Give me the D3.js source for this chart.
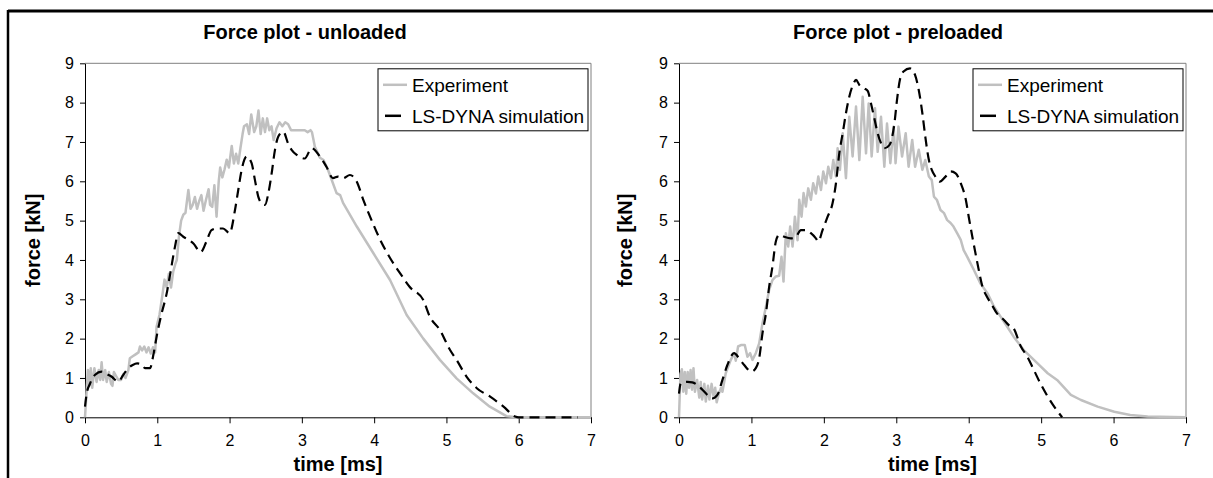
<!DOCTYPE html>
<html>
<head>
<meta charset="utf-8">
<script src="https://cdn.jsdelivr.net/npm/d3@7"></script>
<style>
  html, body { margin: 0; padding: 0; background: #fff; }
  svg { display: block; font-family: "Liberation Sans", Arial, sans-serif; }
</style>
</head>
<body>
<svg id="chart" width="1213" height="478"></svg>
<script>
// tick values shared by both panels
const timeTicks = [0, 1, 2, 3, 4, 5, 6, 7]
const forceTicks = [0, 1, 2, 3, 4, 5, 6, 7, 8, 9]
const seriesNames = ['Experiment', 'LS-DYNA simulation']
const titles = ['Force plot - unloaded', 'Force plot - preloaded']

// [time ms, force kN]
const unloadedExperiment = [
  [0, 0], [0.02, 0.6], [0.04, 1.2], [0.06, 0.8], [0.08, 1.25], [0.10, 0.75], [0.13, 1.25], [0.16, 0.9],
  [0.19, 1.2], [0.21, 0.95], [0.23, 1.4], [0.25, 0.95], [0.28, 1.2], [0.30, 0.9], [0.33, 1.15], [0.36, 0.85],
  [0.38, 0.8], [0.40, 1.15], [0.43, 1.05], [0.46, 0.95], [0.50, 0.95], [0.53, 1.1], [0.56, 1.0], [0.60, 1.2],
  [0.62, 1.5], [0.66, 1.55], [0.70, 1.6], [0.74, 1.65], [0.76, 1.8], [0.79, 1.7], [0.82, 1.8], [0.85, 1.65],
  [0.88, 1.78], [0.91, 1.62], [0.94, 1.78], [0.97, 1.65], [0.99, 2.3], [1.03, 2.6], [1.07, 3.1], [1.10, 3.5],
  [1.13, 3.3], [1.16, 3.65], [1.19, 3.3], [1.22, 3.7], [1.25, 3.9], [1.27, 4.0], [1.30, 4.6], [1.33, 5.0],
  [1.36, 5.15], [1.39, 5.2], [1.43, 5.78], [1.46, 5.3], [1.49, 5.4], [1.52, 5.6], [1.55, 5.3], [1.58, 5.5],
  [1.61, 5.65], [1.64, 5.25], [1.67, 5.5], [1.71, 5.8], [1.73, 5.4], [1.76, 5.35], [1.79, 5.9], [1.82, 5.1],
  [1.85, 6.0], [1.87, 6.35], [1.90, 6.1], [1.93, 6.3], [1.96, 6.55], [1.99, 6.35], [2.03, 6.9], [2.06, 6.45],
  [2.09, 6.7], [2.12, 6.45], [2.15, 6.84], [2.18, 7.2], [2.20, 7.4], [2.24, 7.45], [2.27, 7.2], [2.30, 7.7],
  [2.34, 7.25], [2.37, 7.4], [2.40, 7.8], [2.43, 7.2], [2.46, 7.6], [2.49, 7.25], [2.52, 7.6], [2.55, 7.3],
  [2.58, 7.4], [2.61, 7.05], [2.65, 7.35], [2.69, 7.5], [2.73, 7.4], [2.77, 7.5], [2.81, 7.45], [2.85, 7.3],
  [2.93, 7.3], [3.00, 7.3], [3.04, 7.3], [3.08, 7.25], [3.12, 7.3], [3.14, 7.25], [3.18, 6.88], [3.25, 6.6],
  [3.30, 6.54], [3.36, 6.3], [3.43, 5.95], [3.48, 5.7], [3.53, 5.65], [3.57, 5.45], [3.76, 4.85], [3.99, 4.17],
  [4.22, 3.49], [4.45, 2.6], [4.68, 2.0], [4.91, 1.46], [5.14, 0.99], [5.37, 0.61], [5.60, 0.27], [5.83, 0.03],
  [5.97, 0], [7, 0]
]

const unloadedSimulation = [
  [0, 0.27], [0.023, 0.6], [0.07, 0.86], [0.14, 1.08], [0.23, 1.16], [0.32, 1.08], [0.37, 1.03], [0.44, 0.92],
  [0.46, 0.91], [0.53, 1.08], [0.60, 1.25], [0.66, 1.33], [0.72, 1.37], [0.78, 1.35], [0.83, 1.25], [0.90, 1.25],
  [0.95, 1.63], [1.0, 2.14], [1.06, 2.64], [1.13, 3.15], [1.18, 3.66], [1.245, 4.34], [1.29, 4.68], [1.36, 4.59],
  [1.50, 4.42], [1.60, 4.2], [1.68, 4.47], [1.75, 4.76], [1.82, 4.8], [1.91, 4.8], [2.0, 4.68], [2.075, 5.27],
  [2.12, 5.78], [2.167, 6.29], [2.236, 6.63], [2.305, 6.46], [2.351, 6.03], [2.397, 5.61], [2.444, 5.44],
  [2.49, 5.4], [2.536, 5.69], [2.582, 6.2], [2.628, 6.8], [2.674, 7.14], [2.743, 7.26], [2.812, 6.95],
  [2.858, 6.8], [2.93, 6.67], [3.04, 6.58], [3.135, 6.84], [3.25, 6.63], [3.34, 6.37], [3.43, 6.08],
  [3.50, 6.12], [3.57, 6.08], [3.665, 6.16], [3.76, 5.99], [3.85, 5.53], [3.99, 4.9], [4.10, 4.45],
  [4.22, 4.05], [4.36, 3.66], [4.49, 3.32], [4.68, 2.98], [4.77, 2.56], [4.91, 2.22], [5.05, 1.71],
  [5.14, 1.46], [5.28, 1.03], [5.42, 0.74], [5.60, 0.53], [5.79, 0.27], [5.95, 0.02], [6.0, 0], [6.82, 0]
]

const preloadedExperiment = [
  [0, 0], [0.02, 1.1], [0.04, 1.22], [0.06, 0.65], [0.08, 1.15], [0.10, 0.6], [0.12, 1.15], [0.14, 0.75],
  [0.16, 1.2], [0.18, 0.7], [0.20, 1.25], [0.22, 0.65], [0.25, 0.95], [0.28, 0.5], [0.30, 0.9], [0.32, 0.45],
  [0.35, 0.85], [0.37, 0.4], [0.40, 0.8], [0.42, 0.45], [0.45, 0.85], [0.48, 0.5], [0.50, 0.75], [0.52, 0.38],
  [0.55, 0.6], [0.58, 0.75], [0.60, 0.65], [0.645, 1.12], [0.715, 1.46], [0.76, 1.63], [0.784, 1.44],
  [0.816, 1.8], [0.862, 1.84], [0.908, 1.84], [0.945, 1.54], [0.982, 1.63], [1.014, 1.46], [1.06, 1.63],
  [1.107, 1.88], [1.153, 2.39], [1.20, 2.81], [1.245, 3.24], [1.29, 3.49], [1.337, 3.58], [1.383, 3.6],
  [1.415, 4.08], [1.443, 3.45], [1.475, 4.68], [1.508, 4.34], [1.535, 4.85], [1.568, 4.34], [1.60, 5.1],
  [1.637, 4.5], [1.66, 5.53], [1.692, 5.1], [1.72, 5.7], [1.752, 5.36], [1.784, 5.82], [1.821, 5.53],
  [1.853, 5.95], [1.89, 5.69], [1.923, 6.12], [1.96, 5.78], [1.992, 6.25], [2.029, 5.95], [2.061, 6.37],
  [2.098, 6.08], [2.13, 6.54], [2.167, 6.12], [2.19, 6.84], [2.222, 6.29], [2.26, 7.22], [2.305, 6.08],
  [2.351, 7.64], [2.397, 6.63], [2.444, 7.9], [2.49, 6.54], [2.536, 8.15], [2.582, 6.71], [2.619, 7.98],
  [2.66, 6.63], [2.706, 7.86], [2.743, 6.75], [2.789, 7.64], [2.835, 6.37], [2.872, 7.47], [2.918, 6.46],
  [2.964, 7.39], [2.99, 6.46], [3.03, 7.39], [3.08, 6.63], [3.13, 7.22], [3.17, 6.37], [3.22, 7.05],
  [3.26, 6.37], [3.31, 6.8], [3.36, 6.29], [3.40, 6.54], [3.45, 6.12], [3.49, 6.03], [3.52, 5.61],
  [3.56, 5.53], [3.61, 5.27], [3.66, 5.19], [3.70, 5.02], [3.75, 4.94], [3.79, 4.85], [3.84, 4.68],
  [3.89, 4.51], [3.93, 4.25], [3.98, 4.08], [4.07, 3.75], [4.16, 3.41], [4.26, 3.15], [4.35, 2.81],
  [4.44, 2.56], [4.53, 2.31], [4.62, 2.05], [4.76, 1.71], [4.95, 1.37], [5.09, 1.12], [5.22, 0.95],
  [5.41, 0.57], [5.55, 0.44], [5.78, 0.27], [6.01, 0.14], [6.23, 0.06], [6.47, 0.02], [7, 0]
]

const preloadedSimulation = [
  [0, 0.6], [0.023, 0.86], [0.115, 0.9], [0.184, 0.89], [0.254, 0.82], [0.323, 0.7], [0.415, 0.53],
  [0.461, 0.48], [0.53, 0.57], [0.60, 0.95], [0.668, 1.33], [0.76, 1.63], [0.83, 1.5], [0.90, 1.33],
  [1.0, 1.16], [1.06, 1.25], [1.107, 1.5], [1.153, 2.14], [1.20, 2.64], [1.245, 3.32], [1.29, 3.83],
  [1.337, 4.47], [1.383, 4.64], [1.452, 4.59], [1.545, 4.55], [1.614, 4.59], [1.683, 4.76], [1.752, 4.76],
  [1.821, 4.68], [1.89, 4.55], [1.923, 4.47], [1.982, 4.76], [2.052, 5.1], [2.12, 5.44], [2.167, 5.95],
  [2.213, 6.71], [2.26, 7.22], [2.305, 7.73], [2.351, 8.15], [2.411, 8.49], [2.444, 8.58], [2.49, 8.45],
  [2.559, 8.36], [2.605, 8.3], [2.651, 7.98], [2.697, 7.6], [2.743, 7.22], [2.789, 6.97], [2.835, 6.84],
  [2.905, 6.92], [2.974, 7.47], [3.01, 8.07], [3.05, 8.58], [3.10, 8.79], [3.19, 8.87], [3.26, 8.7],
  [3.31, 8.32], [3.36, 7.73], [3.40, 7.14], [3.45, 6.54], [3.49, 6.29], [3.54, 6.12], [3.60, 5.99],
  [3.68, 6.12], [3.75, 6.25], [3.82, 6.2], [3.89, 5.95], [3.96, 5.53], [4.0, 5.1], [4.05, 4.59],
  [4.12, 3.92], [4.19, 3.32], [4.25, 3.07], [4.32, 2.86], [4.39, 2.64], [4.49, 2.47], [4.55, 2.35],
  [4.62, 2.26], [4.72, 1.8], [4.81, 1.54], [4.90, 1.2], [4.99, 0.86], [5.09, 0.53], [5.18, 0.27], [5.29, 0]
]

const svg = d3.select('#chart')

// outer frame: only top and left edges are visible
svg.append('line')
  .attr('x1', 8).attr('y1', 11).attr('x2', 1213).attr('y2', 11)
  .attr('stroke', '#000').attr('stroke-width', 3)
svg.append('line')
  .attr('x1', 8).attr('y1', 10).attr('x2', 8).attr('y2', 478)
  .attr('stroke', '#000').attr('stroke-width', 2.5)

drawPanel({ left: 85, right: 591, titleX: 305, yTitleX: 40, title: titles[0] },
  unloadedExperiment, unloadedSimulation)
drawPanel({ left: 679, right: 1186, titleX: 898, yTitleX: 632, title: titles[1] },
  preloadedExperiment, preloadedSimulation)

function drawPanel(p, experiment, simulation) {
  const top = 63.3
  const bottom = 417.3

  const x = d3.scaleLinear().domain([0, 7]).range([p.left, p.right])
  const y = d3.scaleLinear().domain([0, 9]).range([bottom, top])

  const g = svg.append('g')

  // grey frame of plot area (top + right)
  g.append('path')
    .attr('d', `M${p.left},${top}H${p.right}V${bottom}`)
    .attr('fill', 'none')
    .attr('stroke', '#808080')
    .attr('stroke-width', 1)

  const xAxis = g.append('g')
    .attr('transform', `translate(0,${bottom})`)
    .call(d3.axisBottom(x).tickValues(timeTicks).tickFormat(d3.format('d'))
      .tickSize(6).tickSizeOuter(0).tickPadding(11))
  const yAxis = g.append('g')
    .attr('transform', `translate(${p.left},0)`)
    .call(d3.axisLeft(y).tickValues(forceTicks).tickFormat(d3.format('d'))
      .tickSize(5).tickSizeOuter(0).tickPadding(6))

  ;[xAxis, yAxis].forEach(a => {
    a.selectAll('path, line').attr('stroke', '#000').attr('stroke-width', 1)
    a.selectAll('text')
      .attr('fill', '#000')
      .attr('font-size', '16px')
      .attr('font-family', '"Liberation Sans", Arial, sans-serif')
  })

  const line = d3.line()
    .x(d => x(d[0]))
    .y(d => y(d[1]))

  g.append('path')
    .datum(experiment)
    .attr('d', line)
    .attr('fill', 'none')
    .attr('stroke', '#c0c0c0')
    .attr('stroke-width', 2.5)
    .attr('stroke-linejoin', 'round')

  g.append('path')
    .datum(simulation)
    .attr('d', line.curve(d3.curveMonotoneX))
    .attr('fill', 'none')
    .attr('stroke', '#000')
    .attr('stroke-width', 2.2)
    .attr('stroke-dasharray', '10,6')

  // titles
  g.append('text')
    .attr('x', p.titleX)
    .attr('y', 39)
    .attr('text-anchor', 'middle')
    .attr('font-size', '20px')
    .attr('font-weight', 'bold')
    .text(p.title)

  g.append('text')
    .attr('x', (p.left + p.right) / 2)
    .attr('y', 471)
    .attr('text-anchor', 'middle')
    .attr('font-size', '20px')
    .attr('font-weight', 'bold')
    .text('time [ms]')

  g.append('text')
    .attr('transform', `translate(${p.yTitleX},${(top + bottom) / 2}) rotate(-90)`)
    .attr('text-anchor', 'middle')
    .attr('font-size', '20px')
    .attr('font-weight', 'bold')
    .text('force [kN]')

  // legend
  const lw = 210
  const lh = 62
  const lx = p.right - 3 - lw
  const ly = top + 5.5
  const leg = g.append('g').attr('transform', `translate(${lx},${ly})`)

  leg.append('rect')
    .attr('width', lw).attr('height', lh)
    .attr('fill', '#fff')
    .attr('stroke', '#000')
    .attr('stroke-width', 1)

  leg.append('line')
    .attr('x1', 5).attr('x2', 29).attr('y1', 16).attr('y2', 16)
    .attr('stroke', '#c0c0c0').attr('stroke-width', 2.5)
  leg.append('line')
    .attr('x1', 7).attr('x2', 23).attr('y1', 47).attr('y2', 47)
    .attr('stroke', '#000').attr('stroke-width', 2.5)

  leg.selectAll('text.lbl')
    .data(seriesNames)
    .join('text')
    .attr('class', 'lbl')
    .attr('x', 34)
    .attr('y', (d, i) => 23 + i * 31)
    .attr('font-size', '19px')
    .text(d => d)
}
</script>
</body>
</html>
